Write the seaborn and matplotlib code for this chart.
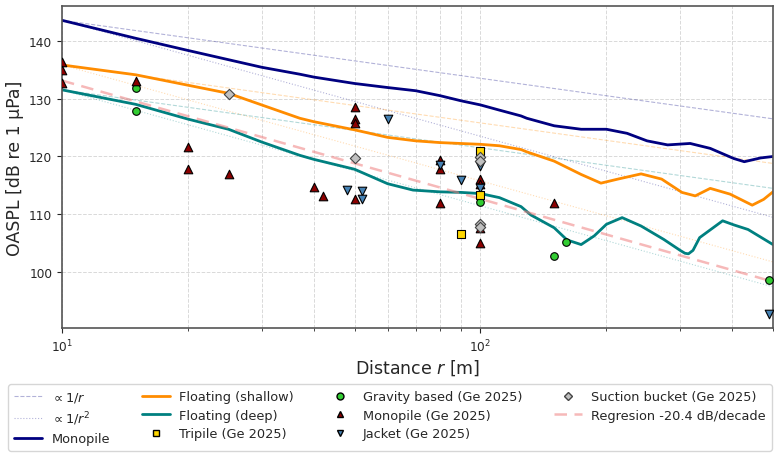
import numpy as np
import matplotlib
matplotlib.use("Agg")
import matplotlib.pyplot as plt
import seaborn as sns

# model curves
monopile_r = [10, 15, 20, 30, 37, 40, 50, 60, 70, 80, 90, 100, 111, 125, 129, 150,
              174, 200, 224, 250, 280, 317, 354, 403, 427, 467, 500]
monopile_db = [143.5, 140.4, 138.3, 135.4, 134.2, 133.7, 132.6, 131.9, 131.35, 130.5,
               129.6, 128.9, 128.0, 127.0, 126.6, 125.3, 124.7, 124.7, 124.0, 122.7,
               122.0, 122.25, 121.4, 119.65, 119.1, 119.75, 120.0]

shallow_r = [10, 15, 20, 25, 30, 37, 40, 50, 60, 70, 80, 100, 111, 125, 129, 150, 174,
             194, 213, 242, 271, 303, 326, 354, 395, 446, 475, 500]
shallow_db = [135.8, 134.1, 132.3, 130.9, 128.9, 126.6, 126.0, 124.6, 123.3, 122.7,
              122.4, 122.1, 121.85, 121.2, 120.8, 119.2, 116.9, 115.4, 116.1, 117.0,
              116.1, 113.8, 113.2, 114.5, 113.5, 111.6, 112.6, 113.9]

deep_r = [10, 15, 20, 25, 30, 37, 40, 50, 60, 69, 80, 90, 100, 111, 125, 132, 150, 161,
          174, 187, 200, 218, 242, 274, 300, 308, 314, 322, 334, 379, 403, 436, 500]
deep_db = [131.5, 129.0, 126.45, 124.7, 122.5, 120.2, 119.5, 117.8, 115.3, 114.2, 113.9,
           113.8, 113.6, 112.9, 111.35, 109.9, 107.7, 105.6, 104.8, 106.3, 108.3, 109.45,
           108.0, 105.7, 103.8, 103.3, 103.2, 103.8, 106.0, 108.9, 108.2, 107.4, 104.8]

# reference slopes and regression, end points at r = 10 and r = 500
ref_r = [10, 500]
monopile_1r = [143.5, 126.5]
monopile_1r2 = [143.5, 109.5]
shallow_1r = [135.8, 118.8]
shallow_1r2 = [135.8, 101.8]
deep_1r = [131.5, 114.5]
deep_1r2 = [131.5, 97.5]
regression_db = [133.1, 98.4]

# measurements (Ge 2025)
ge_monopile_r = [10, 10, 10, 15, 20, 20, 25, 40, 42, 50, 50, 50, 50, 80, 80, 80,
                 100, 100, 100, 100, 150]
ge_monopile_db = [136.3, 135.0, 132.6, 133.1, 121.7, 117.8, 116.9, 114.8, 113.1, 128.5,
                  126.5, 125.8, 112.6, 119.4, 117.8, 111.9, 116.2, 115.3, 107.6, 105.1,
                  112.0]
ge_gravity_r = [15, 15, 100, 150, 160, 490]
ge_gravity_db = [131.9, 127.9, 112.2, 102.8, 105.2, 98.7]
ge_jacket_r = [48, 52, 52, 60, 80, 90, 100, 100, 490]
ge_jacket_db = [114.2, 114.1, 112.6, 126.4, 118.6, 115.9, 118.4, 114.6, 92.9]
ge_tripile_r = [90, 100, 100]
ge_tripile_db = [106.6, 121.0, 113.3]
ge_suction_r = [25, 50, 100, 100, 100, 100]
ge_suction_db = [130.8, 119.8, 119.9, 119.2, 108.4, 107.8]

sns.set_style("ticks")
plt.rcParams['font.family'] = ['DejaVu Sans']

fig = plt.figure(figsize=(7.8, 4.56), dpi=100)
ax = fig.add_axes([0.0795, 0.2785, 0.9115, 0.7065])
ax.set_xscale('log')

# reference slopes
for lv, c in [((monopile_1r, monopile_1r2), 'navy'),
              ((shallow_1r, shallow_1r2), 'darkorange'),
              ((deep_1r, deep_1r2), 'teal')]:
    sns.lineplot(x=ref_r, y=lv[0], ax=ax, color=c, lw=0.8, ls='--', alpha=0.3)
    sns.lineplot(x=ref_r, y=lv[1], ax=ax, color=c, lw=0.8, ls=':', alpha=0.3)

sns.lineplot(x=monopile_r, y=monopile_db, ax=ax, color='navy', lw=2)
sns.lineplot(x=shallow_r, y=shallow_db, ax=ax, color='darkorange', lw=2)
sns.lineplot(x=deep_r, y=deep_db, ax=ax, color='teal', lw=2)
sns.lineplot(x=ref_r, y=regression_db, ax=ax, color='lightcoral', lw=1.8,
             ls=(0, (5, 3)), alpha=0.55)

sc_kw = dict(ax=ax, edgecolor='black', linewidth=0.8, zorder=5)
sns.scatterplot(x=ge_gravity_r, y=ge_gravity_db, marker='o', color='limegreen', s=30, **sc_kw)
sns.scatterplot(x=ge_monopile_r, y=ge_monopile_db, marker='^', color='darkred', s=38, **sc_kw)
sns.scatterplot(x=ge_jacket_r, y=ge_jacket_db, marker='v', color='steelblue', s=38, **sc_kw)
sns.scatterplot(x=ge_tripile_r, y=ge_tripile_db, marker='s', color='gold', s=32, **sc_kw)
sns.scatterplot(x=ge_suction_r, y=ge_suction_db, marker='D', color='silver', s=28,
                ax=ax, edgecolor='#444444', linewidth=0.8, zorder=5)

ax.set_xlim(10, 500)
ax.set_ylim(90.4, 146)
ax.set_yticks([100, 110, 120, 130, 140])
ax.grid(True, which='both', ls='--', color='#d0d0d0', lw=0.7, alpha=0.8)
for s in ax.spines.values():
    s.set_color('#555555')
    s.set_linewidth(1.2)
ax.tick_params(labelsize=8.7)
ax.set_xlabel('Distance $r$ [m]', fontsize=12.5, labelpad=2)
ax.set_ylabel('OASPL [dB re 1 µPa]', fontsize=12.5, labelpad=4)

# legend
L = matplotlib.lines.Line2D
handles = [
    L([], [], color='navy', lw=0.8, ls='--', alpha=0.3),
    L([], [], color='navy', lw=0.8, ls=':', alpha=0.3),
    L([], [], color='navy', lw=2),
    L([], [], color='darkorange', lw=2),
    L([], [], color='teal', lw=2),
    L([], [], marker='s', color='gold', mec='black', ls='', ms=5),
    L([], [], marker='o', color='limegreen', mec='black', ls='', ms=5),
    L([], [], marker='^', color='darkred', mec='black', ls='', ms=5),
    L([], [], marker='v', color='steelblue', mec='black', ls='', ms=5),
    L([], [], marker='D', color='silver', mec='#444444', ls='', ms=4.5),
    L([], [], color='lightcoral', lw=1.8, ls=(0, (5, 3)), alpha=0.55),
]
labels = [r'$\propto 1/r$', r'$\propto 1/r^2$', 'Monopile', 'Floating (shallow)',
          'Floating (deep)', 'Tripile (Ge 2025)', 'Gravity based (Ge 2025)',
          'Monopile (Ge 2025)', 'Jacket (Ge 2025)', 'Suction bucket (Ge 2025)',
          'Regresion -20.4 dB/decade']
fig.legend(handles, labels, ncol=4, loc='upper center',
           bbox_to_anchor=(0.5, 1 - 385 / 456), fontsize=9.3,
           frameon=True, handlelength=2.2, handletextpad=0.7, columnspacing=2.45,
           labelspacing=0.42, borderaxespad=0.0, borderpad=0.45)

fig.savefig('out.png', dpi=100)
